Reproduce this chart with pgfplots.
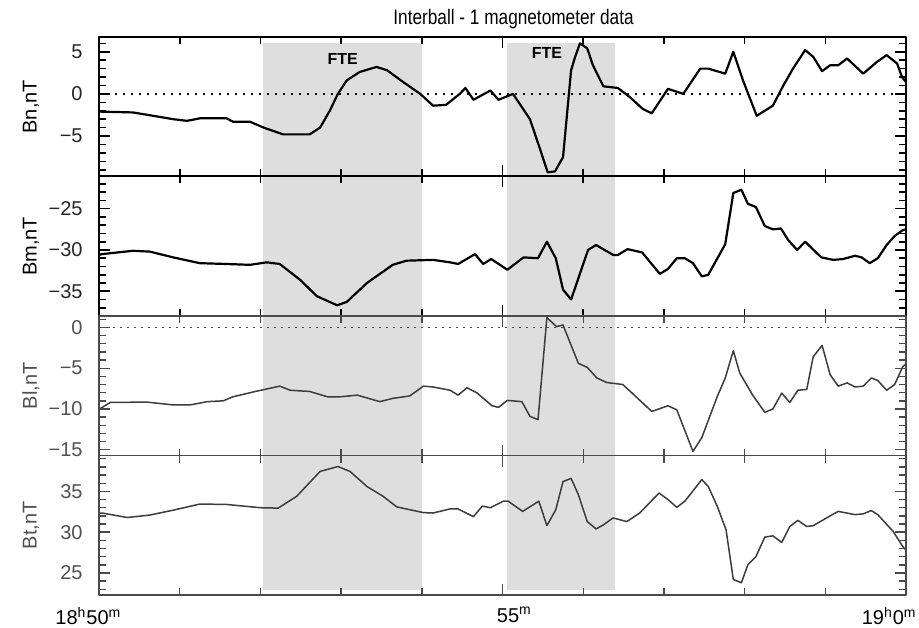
\documentclass[border=0pt]{standalone}
\usepackage{fontspec}
\setmainfont{Liberation Sans}
\usepackage{pgfplots}
\pgfplotsset{compat=1.18}
\definecolor{shade}{HTML}{DEDEDE}
\definecolor{lgray}{HTML}{3C3C3C}
\definecolor{fgray}{HTML}{4A4A4A}
\definecolor{tgray}{HTML}{505050}

\pgfplotstableread{
t v
50.00 -2.1
50.42 -2.2
50.92 -3.0
51.09 -3.2
51.25 -2.9
51.58 -2.9
51.66 -3.3
51.87 -3.3
52.04 -4.0
52.28 -4.8
52.61 -4.8
52.74 -4.0
52.86 -2.0
52.96 0.0
53.07 1.6
53.23 2.6
53.44 3.2
53.57 2.8
53.77 1.4
53.98 0.0
54.14 -1.4
54.30 -1.3
54.47 0.0
54.54 0.7
54.64 -0.7
54.85 0.4
54.95 -0.7
55.13 0.0
55.34 -3.0
55.46 -6.4
55.56 -9.3
55.65 -9.2
55.75 -7.5
55.85 2.8
55.90 4.4
55.96 6.0
56.05 5.4
56.12 3.4
56.25 0.9
56.43 0.7
56.58 -0.4
56.74 -1.8
56.85 -2.3
57.05 0.6
57.24 0.0
57.45 3.0
57.55 3.0
57.76 2.4
57.86 5.0
57.98 1.6
58.15 -2.6
58.35 -1.4
58.48 1.0
58.60 3.0
58.75 5.2
58.85 4.4
58.96 2.7
59.06 3.4
59.16 3.4
59.27 4.2
59.47 2.4
59.64 3.8
59.76 4.6
59.89 3.6
59.95 2.0
60.00 1.4
}\bn

\pgfplotstableread{
t v
50.00 -30.6
50.04 -30.5
50.42 -30.1
50.63 -30.2
50.92 -30.9
51.25 -31.6
51.58 -31.7
51.87 -31.8
52.08 -31.5
52.24 -31.7
52.49 -33.6
52.70 -35.6
52.95 -36.7
53.07 -36.3
53.32 -34.0
53.64 -31.8
53.81 -31.3
54.14 -31.2
54.35 -31.5
54.45 -31.7
54.66 -30.5
54.76 -31.7
54.86 -31.1
55.06 -32.4
55.26 -30.9
55.44 -31.0
55.55 -29.0
55.66 -31.0
55.75 -34.8
55.85 -36.0
56.06 -30.0
56.16 -29.4
56.37 -30.6
56.43 -30.6
56.55 -29.9
56.73 -30.3
56.95 -32.9
57.05 -32.3
57.16 -31.0
57.26 -31.0
57.36 -31.6
57.47 -33.2
57.55 -33.0
57.76 -29.3
57.86 -23.1
57.96 -22.7
58.04 -24.4
58.14 -24.8
58.25 -27.1
58.35 -27.5
58.45 -27.4
58.54 -28.8
58.65 -30.0
58.75 -29.0
58.95 -30.9
59.10 -31.2
59.22 -31.1
59.37 -30.7
59.45 -30.9
59.55 -31.6
59.65 -31.0
59.76 -29.4
59.86 -28.3
59.96 -27.6
60.00 -27.5
}\bm

\pgfplotstableread{
t v
50.00 -10.0
50.04 -9.8
50.14 -9.2
50.59 -9.15
50.92 -9.5
51.13 -9.5
51.34 -9.1
51.54 -9.0
51.66 -8.5
51.96 -7.8
52.24 -7.2
52.37 -7.7
52.61 -7.85
52.83 -8.5
52.99 -8.5
53.20 -8.3
53.48 -9.1
53.64 -8.7
53.85 -8.4
54.02 -7.2
54.14 -7.3
54.35 -7.7
54.45 -8.3
54.56 -7.4
54.68 -8.0
54.87 -9.6
54.95 -9.8
55.06 -8.95
55.24 -9.1
55.34 -10.9
55.44 -11.3
55.55 1.2
55.67 0.1
55.75 0.3
55.94 -4.4
56.05 -4.9
56.17 -6.2
56.29 -6.75
56.49 -7.0
56.60 -8.0
56.85 -10.3
57.05 -9.6
57.16 -10.1
57.36 -15.2
57.47 -13.5
57.66 -8.5
57.76 -6.2
57.86 -2.85
57.94 -5.6
58.10 -8.3
58.25 -10.4
58.35 -10.0
58.46 -8.05
58.56 -9.2
58.66 -7.7
58.77 -7.6
58.85 -3.6
58.96 -2.2
59.06 -5.8
59.16 -7.2
59.27 -6.8
59.37 -7.3
59.47 -7.2
59.57 -6.2
59.65 -6.5
59.76 -7.7
59.86 -7.0
59.96 -4.8
60.00 -4.5
}\bl

\pgfplotstableread{
t v
50.00 32.3
50.04 32.35
50.35 31.8
50.63 32.1
50.92 32.7
51.25 33.45
51.58 33.4
52.00 33.0
52.22 32.95
52.45 34.4
52.74 37.45
52.96 38.05
53.11 37.45
53.32 35.6
53.52 34.4
53.69 33.1
54.02 32.4
54.14 32.35
54.35 32.85
54.45 32.85
54.64 31.9
54.75 33.2
54.85 33.0
55.01 33.8
55.07 33.8
55.25 32.55
55.45 33.8
55.55 30.8
55.66 32.75
55.75 36.2
55.85 36.6
55.94 34.6
56.05 31.3
56.16 30.4
56.25 30.9
56.37 31.75
56.54 31.3
56.70 32.35
56.94 34.8
57.05 34.0
57.16 33.05
57.26 33.8
57.47 36.45
57.55 35.6
57.66 33.2
57.77 30.3
57.86 24.2
57.96 23.8
58.04 26.0
58.14 27.0
58.25 29.4
58.35 29.55
58.46 28.75
58.56 30.7
58.66 31.45
58.77 30.7
58.85 30.8
59.06 32.0
59.16 32.55
59.37 32.15
59.47 32.25
59.57 32.65
59.65 32.15
59.84 30.1
59.96 28.25
60.00 27.8
}\bt

\pgfplotsset{
  panel/.style={
    width=403.5pt, height=69.75pt, scale only axis,
    anchor=south west,
    xmin=50, xmax=60,
    xtick={50,55,60}, minor xtick={51,...,59}, xticklabels={},
    tick align=inside, major tick length=5.5pt, minor tick length=3.5pt,
    yticklabel style={font=\fontsize{10}{12}\selectfont, anchor=east, inner sep=0pt, xshift=-8pt},
    axis on top, clip mode=individual,
    line join=round,
  },
}

\begin{document}
\begin{tikzpicture}
% ---- Bn panel ----
\begin{axis}[panel, at={(0,209.25pt)},
  ymin=-9.8, ymax=6.75,
  ytick={-5,0,5}, yticklabels={−5,0,5}, minor ytick={-9,...,6},
  axis line style={black, line width=1pt}, every tick/.style={black, line width=0.8pt},
  yticklabel style={text=black!85}]
\addplot[fill=shade, draw=none] coordinates {(52.03,-11) (52.03,6.0) (54.0,6.0) (54.0,-11)} -- cycle;
\addplot[fill=shade, draw=none] coordinates {(55.05,-11) (55.05,6.0) (56.40,6.0) (56.40,-11)} -- cycle;
\addplot[black, line width=0.7pt, dash pattern=on 1.1pt off 2.9pt] coordinates {(50,0) (60,0)};
\addplot[black, line width=1.1pt] table[x=t, y=v] {\bn};
\node[font=\bfseries\fontsize{8}{10}\selectfont] at (axis cs:53.02,4.1) {FTE};
\node[font=\bfseries\fontsize{8}{10}\selectfont] at (axis cs:55.55,4.8) {FTE};
\node[font=\fontsize{10.5}{12}\selectfont, xscale=0.82] at (rel axis cs:0.5,1) [xshift=6.75pt, yshift=9pt] {Interball - 1 magnetometer data};
\node[rotate=90, font=\fontsize{10}{12}\selectfont] at ([xshift=-34pt]rel axis cs:0,0.5) {Bn,nT};
\end{axis}
% ---- Bm panel ----
\begin{axis}[panel, at={(0,139.5pt)},
  ymin=-38, ymax=-21.1,
  ytick={-35,-30,-25}, yticklabels={−35,−30,−25}, minor ytick={-37,...,-22},
  axis line style={black, line width=1pt}, every tick/.style={black, line width=0.8pt},
  yticklabel style={text=black!85}]
\addplot[fill=shade, draw=none] coordinates {(52.03,-40) (52.03,-20) (54.0,-20) (54.0,-40)} -- cycle;
\addplot[fill=shade, draw=none] coordinates {(55.05,-40) (55.05,-20) (56.40,-20) (56.40,-40)} -- cycle;
\addplot[black, line width=1.1pt] table[x=t, y=v] {\bm};
\node[rotate=90, font=\fontsize{10}{12}\selectfont] at ([xshift=-34pt]rel axis cs:0,0.5) {Bm,nT};
\end{axis}
% ---- Bl panel ----
\begin{axis}[panel, at={(0,69.75pt)},
  ymin=-15.7, ymax=1.4,
  ytick={-15,-10,-5,0}, yticklabels={−15,−10,−5,0}, minor ytick={-15,...,1},
  axis line style={fgray, line width=0.85pt}, every tick/.style={fgray, line width=0.7pt},
  yticklabel style={text=tgray}]
\addplot[fill=shade, draw=none] coordinates {(52.03,-17) (52.03,3) (54.0,3) (54.0,-17)} -- cycle;
\addplot[fill=shade, draw=none] coordinates {(55.05,-17) (55.05,3) (56.40,3) (56.40,-17)} -- cycle;
\addplot[fgray, line width=0.7pt, dash pattern=on 0.9pt off 2.6pt] coordinates {(50,0) (60,0)};
\addplot[lgray, line width=0.75pt] table[x=t, y=v] {\bl};
\node[rotate=90, font=\fontsize{10}{12}\selectfont, text=tgray] at ([xshift=-34pt]rel axis cs:0,0.5) {Bl,nT};
\end{axis}
% ---- Bt panel ----
\begin{axis}[panel, at={(0,0pt)},
  ymin=22.3, ymax=39.4,
  ytick={25,30,35}, yticklabels={25,30,35}, minor ytick={23,...,39},
  axis line style={fgray, line width=0.85pt}, every tick/.style={fgray, line width=0.7pt},
  yticklabel style={text=tgray}]
\addplot[fill=shade, draw=none] coordinates {(52.03,22.95) (52.03,41) (54.0,41) (54.0,22.95)} -- cycle;
\addplot[fill=shade, draw=none] coordinates {(55.05,22.95) (55.05,41) (56.40,41) (56.40,22.95)} -- cycle;
\addplot[lgray, line width=0.75pt] table[x=t, y=v] {\bt};
\node[rotate=90, font=\fontsize{10}{12}\selectfont, text=tgray] at ([xshift=-34pt]rel axis cs:0,0.5) {Bt,nT};
\node[anchor=north west, inner sep=0pt, font=\fontsize{10}{12}\selectfont, xshift=-22pt, yshift=-6pt] at (rel axis cs:0,0) {18\textsuperscript{h}50\textsuperscript{m}};
\node[anchor=north west, inner sep=0pt, font=\fontsize{10}{12}\selectfont, xshift=-3pt, yshift=-6pt] at (rel axis cs:0.5,0) {55\textsuperscript{m}};
\node[anchor=north east, inner sep=0pt, font=\fontsize{10}{12}\selectfont, xshift=5.5pt, yshift=-6pt] at (rel axis cs:1,0) {19\textsuperscript{h}0\textsuperscript{m}};
\end{axis}
\pgfresetboundingbox
\path[use as bounding box] (-49.5pt,-16pt) rectangle (410pt,297.5pt);
\end{tikzpicture}
\end{document}
